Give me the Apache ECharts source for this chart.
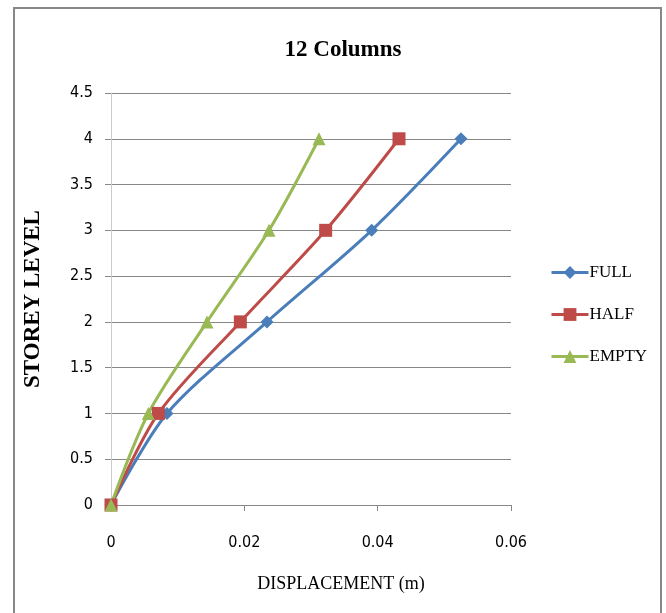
<!DOCTYPE html>
<html>
<head>
<meta charset="utf-8">
<script src="https://cdn.jsdelivr.net/npm/echarts@6/dist/echarts.min.js"></script>
<style>
  html, body { margin: 0; padding: 0; background: #fff; }
  #main { width: 666px; height: 613px; }
</style>
</head>
<body>
<div id="main"></div>
<script>
// storey levels (y) and displacements (x) for each case
var storeyLevels = [0, 1, 2, 3, 4];
var fullDisp = [0, 0.0084, 0.0234, 0.0391, 0.0525];
var halfDisp = [0, 0.0071, 0.0194, 0.0322, 0.0432];
var emptyDisp = [0, 0.0056, 0.0144, 0.0237, 0.0312];

function pairs(disp) {
    return disp.map(function (d, i) { return [d, storeyLevels[i]]; });
}

var chartDom = document.getElementById('main');
var myChart = echarts.init(chartDom);
var option;

var serif = '"Liberation Serif", "DejaVu Serif", serif';
var narrow = '"Liberation Sans Narrow", "DejaVu Sans Condensed", sans-serif';

option = {
    animation: false,
    backgroundColor: '#fff',
    title: {
        text: '12 Columns',
        left: 338,
        textAlign: 'center',
        top: 34,
        textStyle: { fontFamily: serif, fontSize: 23, fontWeight: 'bold', color: '#000' }
    },
    graphic: [{
        type: 'rect',
        shape: { x: 14, y: 8, width: 647, height: 620 },
        style: { fill: 'none', stroke: '#888', lineWidth: 2 },
        silent: true
    }],
    legend: {
        orient: 'vertical',
        left: 545,
        top: 259,
        itemGap: 25,
        itemWidth: 37,
        itemHeight: 16,
        lineStyle: { width: 3 },
        textStyle: { fontFamily: serif, fontSize: 17, color: '#000', padding: [0, 0, 0, -4] },
        data: ['FULL', 'HALF', 'EMPTY']
    },
    grid: { left: 111, right: 155, top: 93, bottom: 108 },
    xAxis: {
        type: 'value',
        min: 0,
        max: 0.06,
        interval: 0.02,
        name: 'DISPLACEMENT (m)',
        nameLocation: 'middle',
        nameGap: 70,
        nameTextStyle: { fontFamily: serif, fontSize: 18, color: '#000', padding: [0, 0, 0, 60] },
        axisLine: { show: true, lineStyle: { color: '#888', width: 1 } },
        axisTick: { show: true, length: 6, inside: false, lineStyle: { color: '#888' } },
        axisLabel: { fontFamily: narrow, fontSize: 16, color: '#000', margin: 30 },
        splitLine: { show: false }
    },
    yAxis: {
        type: 'value',
        min: 0,
        max: 4.5,
        interval: 0.5,
        name: 'STOREY LEVEL',
        nameLocation: 'middle',
        nameGap: 66,
        nameTextStyle: { fontFamily: serif, fontSize: 23, fontWeight: 'bold', color: '#000' },
        axisLine: { show: true, lineStyle: { color: '#ccc', width: 1 } },
        axisTick: { show: true, length: 6, lineStyle: { color: '#888' } },
        axisLabel: { fontFamily: narrow, fontSize: 16, color: '#000', margin: 18 },
        splitLine: { show: true, lineStyle: { color: '#888', width: 1 } }
    },
    series: [
        {
            name: 'FULL',
            type: 'line',
            smooth: 0.3,
            data: pairs(fullDisp),
            symbol: 'diamond',
            symbolSize: 13,
            color: '#4A7EBB',
            lineStyle: { width: 3 }
        },
        {
            name: 'HALF',
            type: 'line',
            smooth: 0.3,
            data: pairs(halfDisp),
            symbol: 'rect',
            symbolSize: 13,
            color: '#BE4B48',
            lineStyle: { width: 3 }
        },
        {
            name: 'EMPTY',
            type: 'line',
            smooth: 0.3,
            data: pairs(emptyDisp),
            symbol: 'triangle',
            symbolSize: 13,
            color: '#98B954',
            lineStyle: { width: 3 }
        }
    ]
};

option && myChart.setOption(option);
</script>
</body>
</html>
